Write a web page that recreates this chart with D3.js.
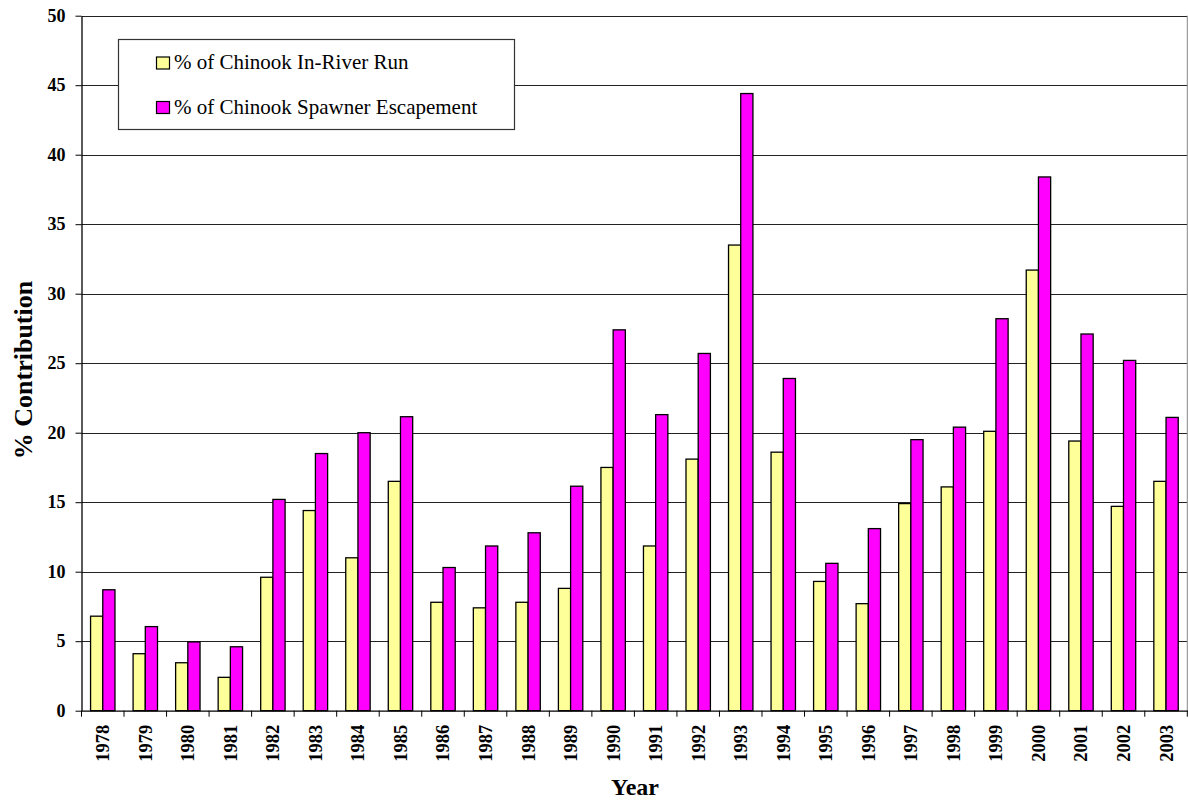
<!DOCTYPE html>
<html><head><meta charset="utf-8">
<script src="https://cdn.jsdelivr.net/npm/d3@7"></script>
<style>
body{margin:0;background:#fff;}
svg{display:block;}
text{font-family:"Liberation Serif","Times New Roman",serif;}
</style></head>
<body>
<svg id="c" width="1188" height="803"></svg>
<script>
const years = ["1978","1979","1980","1981","1982","1983","1984","1985","1986","1987","1988","1989","1990","1991","1992","1993","1994","1995","1996","1997","1998","1999","2000","2001","2002","2003"];
const inRiverRun = [6.8,4.1,3.45,2.4,9.6,14.4,11.0,16.5,7.8,7.4,7.8,8.8,17.5,11.85,18.1,33.5,18.6,9.3,7.7,14.9,16.1,20.1,31.7,19.4,14.7,16.5];
const spawnerEsc = [8.7,6.05,4.95,4.6,15.2,18.5,20.0,21.15,10.3,11.85,12.8,16.15,27.4,21.3,25.7,44.4,23.9,10.6,13.1,19.5,20.4,28.2,38.4,27.1,25.2,21.1];
const seriesNames = ["% of Chinook In-River Run","% of Chinook Spawner Escapement"];
const seriesColors = ["#FFFF99","#FF00FF"];
const yTicks = [0,5,10,15,20,25,30,35,40,45,50];

const svg = d3.select("#c");
const L = 81.5, R = 1187.3, T = 15.7, B = 710.7;
const x = d3.scaleBand().domain(years).range([L,R]).paddingInner(0).paddingOuter(0);
const y = d3.scaleLinear().domain([0,50]).range([B,T]);
const bw = x.bandwidth()*12.2/42.52;
const off = (x.bandwidth()-2*bw)/2;

// gridlines
svg.append("g").selectAll("line").data(yTicks.filter(d=>d>0)).join("line")
  .attr("x1",L).attr("x2",R).attr("y1",d=>Math.round(y(d))+0.5).attr("y2",d=>Math.round(y(d))+0.5)
  .attr("stroke","#222").attr("stroke-width",1);
// right border
svg.append("line").attr("x1",R).attr("x2",R).attr("y1",T).attr("y2",B).attr("stroke","#888");

// bars
const data = years.map((yr,i)=>({yr, v:[inRiverRun[i],spawnerEsc[i]]}));
const g = svg.append("g");
[0,1].forEach(s=>{
  g.selectAll(".b"+s).data(data).join("rect")
   .attr("x",d=>x(d.yr)+off+s*bw).attr("width",bw)
   .attr("y",d=>y(d.v[s])).attr("height",d=>B-y(d.v[s]))
   .attr("fill",seriesColors[s]).attr("stroke","#000").attr("stroke-width",1.3);
});

// axes
const ya = d3.axisLeft(y).tickValues(yTicks).tickSize(6).tickSizeOuter(0).tickPadding(10);
svg.append("g").attr("transform",`translate(${L},0)`).call(ya)
  .call(a=>{a.select(".domain").attr("stroke","#000").attr("stroke-width",1.3);
    a.selectAll("line").attr("stroke","#000");
    a.selectAll("text").attr("font-size",18).attr("font-weight","bold").attr("font-family","Liberation Serif").attr("fill","#000");});

const xa = d3.axisBottom(x).tickSize(0).tickSizeOuter(0);
const xg = svg.append("g").attr("transform",`translate(0,${B})`).call(xa);
xg.select(".domain").attr("stroke","#000").attr("stroke-width",1.3);
xg.selectAll("text").attr("font-size",18.5).attr("font-weight","bold").attr("font-family","Liberation Serif").attr("fill","#000")
  .attr("transform","rotate(-90)").attr("text-anchor","end").attr("dy","0.35em").attr("x",-14).attr("y",0);
// category boundary ticks
svg.append("g").selectAll("line").data(years.concat(["end"])).join("line")
  .attr("x1",(d,i)=>L+i*x.bandwidth()).attr("x2",(d,i)=>L+i*x.bandwidth())
  .attr("y1",B).attr("y2",B+6).attr("stroke","#000");

// axis titles
svg.append("text").attr("transform","translate(32,370) rotate(-90)").attr("text-anchor","middle")
  .attr("font-size",26).attr("font-weight","bold").text("% Contribution");
svg.append("text").attr("x",635).attr("y",795).attr("text-anchor","middle")
  .attr("font-size",24).attr("font-weight","bold").text("Year");

// legend
const lg = svg.append("g");
lg.append("rect").attr("x",118.5).attr("y",39.5).attr("width",396).attr("height",90)
  .attr("fill","#fff").attr("stroke","#333").attr("stroke-width",1.2);
seriesNames.forEach((n,i)=>{
  const yy = 56.5 + i*44.5;
  lg.append("rect").attr("x",156.5).attr("y",yy+0.5).attr("width",13).attr("height",12)
    .attr("fill",seriesColors[i]).attr("stroke","#000").attr("stroke-width",1.2);
  lg.append("text").attr("x",174).attr("y",yy+12.8).attr("font-size",21).attr("fill","#000").text(n);
});
</script>
</body></html>
